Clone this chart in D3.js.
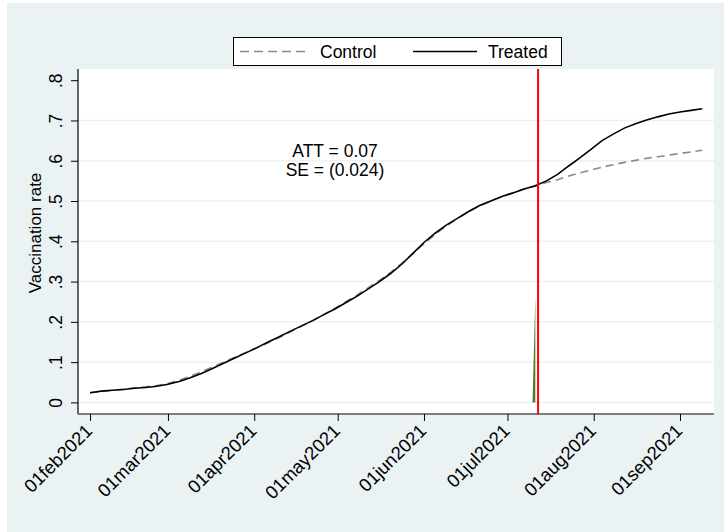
<!DOCTYPE html>
<html>
<head>
<meta charset="utf-8">
<script src="https://cdn.jsdelivr.net/npm/d3@7"></script>
<style>
  html, body { margin: 0; padding: 0; background: #ffffff; }
  svg { display: block; font-family: "Liberation Sans", Arial, Helvetica, sans-serif; }
</style>
</head>
<body>
<svg id="chart" width="724" height="532"></svg>
<script>
// Observation dates (every fourth day)
const dates = [
  "2021-02-01","2021-02-05","2021-02-09","2021-02-13","2021-02-17","2021-02-21","2021-02-25",
  "2021-03-01","2021-03-05","2021-03-09","2021-03-13","2021-03-17","2021-03-21","2021-03-25","2021-03-29",
  "2021-04-02","2021-04-06","2021-04-10","2021-04-14","2021-04-18","2021-04-22","2021-04-26","2021-04-30",
  "2021-05-04","2021-05-08","2021-05-12","2021-05-16","2021-05-20","2021-05-24","2021-05-28",
  "2021-06-01","2021-06-05","2021-06-09","2021-06-13","2021-06-17","2021-06-21","2021-06-25","2021-06-29",
  "2021-07-03","2021-07-07","2021-07-11","2021-07-15","2021-07-19","2021-07-23","2021-07-27","2021-07-31",
  "2021-08-04","2021-08-08","2021-08-12","2021-08-16","2021-08-20","2021-08-24","2021-08-28",
  "2021-09-01","2021-09-05","2021-09-09"
];

// Vaccination rate, synthetic control
const controlValues = [
  0.024,0.027,0.030,0.033,0.036,0.039,0.042,
  0.047,0.055,0.065,0.076,0.088,0.100,0.112,0.124,
  0.136,0.148,0.161,0.175,0.189,0.203,0.218,0.234,
  0.250,0.267,0.285,0.303,0.323,0.345,0.369,
  0.394,0.417,0.438,0.456,0.473,0.488,0.500,0.511,
  0.521,0.530,0.537,0.546,0.553,0.562,0.570,0.577,
  0.584,0.590,0.596,0.601,0.606,0.610,0.614,
  0.618,0.622,0.626
];

// Vaccination rate, treated unit
const treatedValues = [
  0.024,0.028,0.030,0.032,0.035,0.037,0.040,
  0.045,0.052,0.061,0.072,0.084,0.097,0.110,0.123,
  0.136,0.150,0.163,0.177,0.190,0.203,0.218,0.232,
  0.248,0.264,0.282,0.300,0.320,0.343,0.370,
  0.397,0.420,0.440,0.457,0.474,0.489,0.500,0.511,
  0.520,0.530,0.538,0.550,0.566,0.587,0.607,0.628,
  0.650,0.666,0.681,0.692,0.701,0.709,0.716,
  0.721,0.725,0.729
];

// Treatment-week spike
const spikeDates = ["2021-07-10", "2021-07-11"];
const spikeValues = [0, 0.262];

const treatmentDate = "2021-07-12";

const yTicks = [0, 0.1, 0.2, 0.3, 0.4, 0.5, 0.6, 0.7, 0.8];
const yTickLabels = ["0", ".1", ".2", ".3", ".4", ".5", ".6", ".7", ".8"];
const xTickDates = ["2021-02-01","2021-03-01","2021-04-01","2021-05-01","2021-06-01","2021-07-01","2021-08-01","2021-09-01"];
const xTickLabels = ["01feb2021","01mar2021","01apr2021","01may2021","01jun2021","01jul2021","01aug2021","01sep2021"];

const annotationLines = ["ATT = 0.07", "SE = (0.024)"];
const legendLabels = ["Control", "Treated"];
const yTitle = "Vaccination rate";

const parse = d3.utcParse("%Y-%m-%d");

const svg = d3.select("#chart");
const W = 724, H = 532;
const plot = { left: 78, right: 714, top: 69, bottom: 414 };

// graph region
svg.append("rect").attr("width", W).attr("height", H).attr("fill", "#ffffff");
svg.append("rect").attr("x", 7).attr("y", 3).attr("width", W - 7).attr("height", H - 3).attr("fill", "#eaf2f3");

const x = d3.scaleUtc()
  .domain([parse("2021-01-28"), parse("2021-09-13")])
  .range([78.9, 713.4]);
const y = d3.scaleLinear()
  .domain([0, 0.8])
  .range([402.4, 80.2]);

// plot region
svg.append("rect")
  .attr("x", plot.left).attr("y", plot.top)
  .attr("width", plot.right - plot.left).attr("height", plot.bottom - plot.top)
  .attr("fill", "#ffffff");

// horizontal grid
svg.append("g").selectAll("line")
  .data(yTicks.filter(v => v < 0.8))
  .join("line")
  .attr("x1", plot.left).attr("x2", plot.right)
  .attr("y1", d => y(d)).attr("y2", d => y(d))
  .attr("stroke", "#eaf2f3").attr("stroke-width", 1.5);

// y axis
const yAxis = d3.axisLeft(y).tickValues(yTicks).tickSize(7)
  .tickFormat((d, i) => yTickLabels[i]);
const gy = svg.append("g").attr("transform", `translate(${plot.left},0)`).call(yAxis);
gy.select(".domain").attr("d", `M0,${plot.top}V${plot.bottom}`).attr("stroke", "#000").attr("stroke-width", 1.2);
gy.selectAll(".tick line").attr("stroke", "#000");
gy.selectAll(".tick text")
  .attr("font-size", 17.5)
  .attr("fill", "#000")
  .attr("text-anchor", "middle")
  .attr("x", null).attr("dy", null)
  .attr("transform", "translate(-16,0) rotate(-90)");

// x axis
const xAxis = d3.axisBottom(x)
  .tickValues(xTickDates.map(parse)).tickSize(7)
  .tickFormat((d, i) => xTickLabels[i]);
const gx = svg.append("g").attr("transform", `translate(0,${plot.bottom})`).call(xAxis);
gx.select(".domain").attr("d", `M${plot.left},0H${plot.right}`).attr("stroke", "#555").attr("stroke-width", 1.6);
gx.selectAll(".tick line").attr("stroke", "#000");
gx.selectAll(".tick text")
  .attr("font-size", 18.5)
  .attr("fill", "#000")
  .attr("text-anchor", "end")
  .attr("y", null).attr("dy", null)
  .attr("transform", "translate(3,18) rotate(-45)");

// y axis title
svg.append("text")
  .attr("transform", "translate(41,233) rotate(-90)")
  .attr("text-anchor", "middle")
  .attr("font-size", 17)
  .text(yTitle);

// spike area
const spike = spikeDates.map((d, i) => ({ date: parse(d), value: spikeValues[i] }));
svg.append("path")
  .datum(spike)
  .attr("fill", "#55772f")
  .attr("d", d3.area().x(d => x(d.date)).y0(y(0)).y1(d => y(d.value)));

const control = dates.map((d, i) => ({ date: parse(d), value: controlValues[i] }));
const treated = dates.map((d, i) => ({ date: parse(d), value: treatedValues[i] }));
const line = d3.line().x(d => x(d.date)).y(d => y(d.value));

svg.append("path").datum(control)
  .attr("fill", "none").attr("stroke", "#8a8a8a").attr("stroke-width", 1.6)
  .attr("stroke-dasharray", "8,5")
  .attr("d", line);
svg.append("path").datum(treated)
  .attr("fill", "none").attr("stroke", "#000").attr("stroke-width", 1.6)
  .attr("d", line);

// treatment date marker
svg.append("line")
  .attr("x1", x(parse(treatmentDate))).attr("x2", x(parse(treatmentDate)))
  .attr("y1", plot.top).attr("y2", plot.bottom)
  .attr("stroke", "#ff0000").attr("stroke-width", 2);

// annotation
svg.append("g").selectAll("text")
  .data(annotationLines)
  .join("text")
  .attr("x", 335).attr("y", (d, i) => 157 + i * 18.5)
  .attr("text-anchor", "middle")
  .attr("font-size", 17.5)
  .text(d => d);

// legend
const lg = svg.append("g");
lg.append("rect").attr("x", 233.5).attr("y", 37.5).attr("width", 328).attr("height", 28)
  .attr("fill", "#fff").attr("stroke", "#000").attr("stroke-width", 1);
lg.append("line").attr("x1", 240).attr("x2", 310).attr("y1", 51.5).attr("y2", 51.5)
  .attr("stroke", "#8a8a8a").attr("stroke-width", 1.6).attr("stroke-dasharray", "9,5");
lg.append("text").attr("x", 320).attr("y", 58).attr("font-size", 17.5).text(legendLabels[0]);
lg.append("line").attr("x1", 413).attr("x2", 477).attr("y1", 51.5).attr("y2", 51.5)
  .attr("stroke", "#000").attr("stroke-width", 1.6);
lg.append("text").attr("x", 488).attr("y", 58).attr("font-size", 17.5).text(legendLabels[1]);
</script>
</body>
</html>
